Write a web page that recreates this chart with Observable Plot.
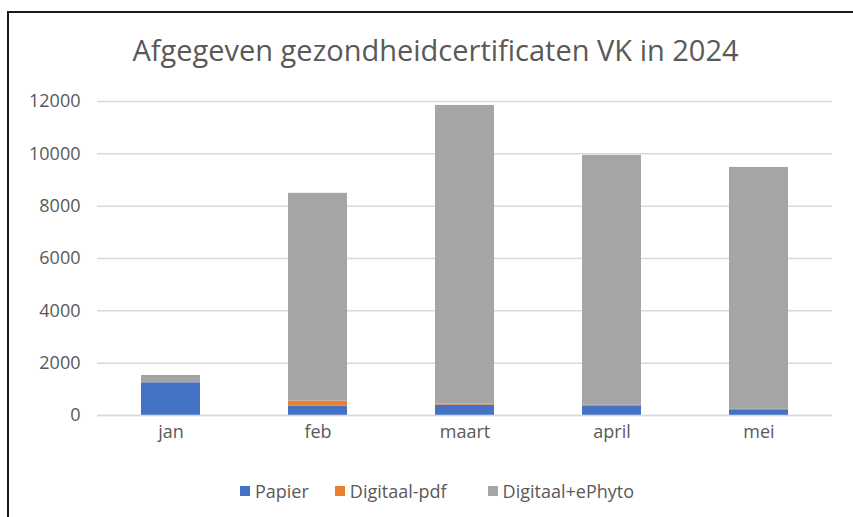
<!DOCTYPE html>
<html>
<head>
<meta charset="utf-8">
<script src="https://cdn.jsdelivr.net/npm/d3@7"></script>
<script src="https://cdn.jsdelivr.net/npm/@observablehq/plot@0.6"></script>
<style>
  html, body { margin: 0; padding: 0; background: #fff; }
  #wrap { position: relative; width: 853px; height: 517px; overflow: hidden; background: #fff; font-family: "Open Sans", sans-serif; }
  #frame { position: absolute; left: 7px; top: 11px; right: -10px; bottom: -10px; border-left: 2px solid #1a1a1a; border-top: 2px solid #1a1a1a; }
  #title { position: absolute; left: 0; width: 871px; top: 30px; text-align: center; font-size: 29px; color: #595959; line-height: 40px; }
  #chart { position: absolute; left: 0; top: 80px; }
  #legend { position: absolute; left: 0; width: 874px; top: 479px; display: flex; justify-content: center; font-size: 18px; color: #595959; }
  .item { display: flex; align-items: center; margin: 0 13px; }
  .item:last-child { margin-left: 28px; }
  .sw { width: 10px; height: 10px; margin-right: 5px; }
</style>
</head>
<body>
<div id="wrap">
  <div id="frame"></div>
  <div id="title">Afgegeven gezondheidcertificaten VK in 2024</div>
  <div id="chart"></div>
  <div id="legend"></div>
</div>
<script>
const months = ["jan", "feb", "maart", "april", "mei"];
const series = ["Papier", "Digitaal-pdf", "Digitaal+ePhyto"];
const colors = ["#4472C4", "#ED7D31", "#A5A5A5"];
const papier = [1250, 350, 400, 370, 220];
const digitaalPdf = [0, 200, 30, 20, 15];
const digitaalEPhyto = [280, 7940, 11420, 9550, 9245];
const yTicks = [0, 2000, 4000, 6000, 8000, 10000, 12000];

const values = [papier, digitaalPdf, digitaalEPhyto];
const data = [];
series.forEach((s, si) => months.forEach((m, mi) => data.push({month: m, series: s, value: values[si][mi]})));

const chart = Plot.plot({
  width: 853,
  height: 390,
  marginLeft: 97,
  marginRight: 21,
  marginTop: 21,
  marginBottom: 55,
  style: { fontFamily: "Open Sans, sans-serif", fontSize: "18px", color: "#595959", background: "transparent" },
  x: { domain: months, paddingInner: 0.6, paddingOuter: 0.3, label: null },
  y: { domain: [0, 12000], label: null },
  color: { domain: series, range: colors },
  marks: [
    Plot.gridY(yTicks, { stroke: "#d9d9d9", strokeOpacity: 1, strokeWidth: 1.5 }),
    Plot.axisY(yTicks, { tickSize: 0, tickPadding: 17, tickFormat: d => String(d), label: null, fill: "#595959", fontSize: 18 }),
    Plot.axisX({ tickSize: 0, tickPadding: 10, label: null, fill: "#595959", fontSize: 18 }),
    Plot.barY(data, { x: "month", y: "value", fill: "series", z: "series", order: series }),
    Plot.ruleY([0], { stroke: "#d9d9d9", strokeWidth: 1.5 })
  ]
});
document.getElementById("chart").appendChild(chart);

const legend = document.getElementById("legend");
series.forEach((s, i) => {
  const it = document.createElement("div");
  it.className = "item";
  const sw = document.createElement("span");
  sw.className = "sw";
  sw.style.background = colors[i];
  const t = document.createElement("span");
  t.textContent = s;
  it.appendChild(sw); it.appendChild(t);
  legend.appendChild(it);
});
</script>
</body>
</html>
